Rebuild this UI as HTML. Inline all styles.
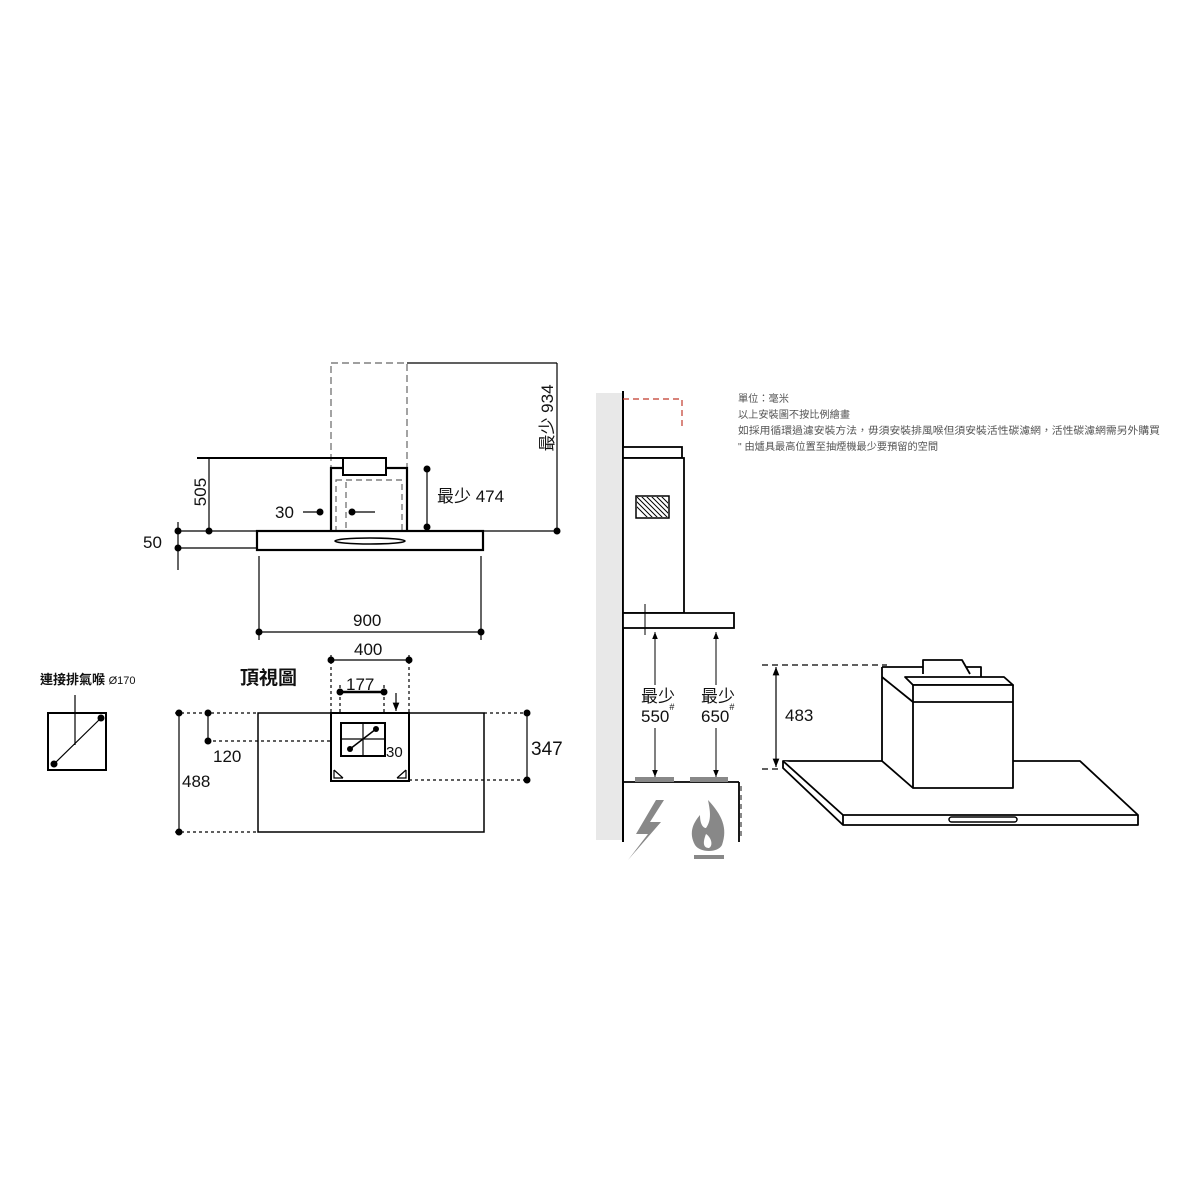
<!DOCTYPE html>
<html><head><meta charset="utf-8"><style>
html,body{margin:0;padding:0;background:#fff;}
svg{display:block;font-family:"Liberation Sans","Noto Sans CJK TC",sans-serif;}
</style></head><body>
<svg width="1200" height="1200" viewBox="0 0 1200 1200" xmlns="http://www.w3.org/2000/svg">
<defs>
<marker id="ah" viewBox="0 0 10 10" refX="10" refY="5" markerWidth="7" markerHeight="7" orient="auto-start-reverse"><path d="M0,1 L10,5 L0,9 Z" fill="#000"/></marker>
<clipPath id="vc"><rect x="637" y="497" width="31" height="20"/></clipPath>
</defs>
<rect width="1200" height="1200" fill="#fff"/>
<g stroke="#000" fill="none" stroke-width="1.2">
<rect x="331" y="363" width="76" height="105" stroke="#666" stroke-dasharray="7,4"/>
<line x1="407" y1="363" x2="557" y2="363"/>
<line x1="557" y1="363" x2="557" y2="531"/>
<line x1="197" y1="458" x2="386" y2="458" stroke-width="2"/>
<line x1="209" y1="458" x2="209" y2="531"/>
<rect x="331" y="468" width="76" height="67" stroke-width="2.2" fill="#fff"/>
<rect x="343" y="458" width="43" height="17" stroke-width="2" fill="#fff"/>
<rect x="336" y="480" width="66" height="55" stroke="#666" stroke-dasharray="6,4"/>
<line x1="346" y1="482" x2="346" y2="533" stroke="#666" stroke-dasharray="6,4"/>
<line x1="303" y1="512" x2="320" y2="512"/>
<line x1="352" y1="512" x2="375" y2="512"/>
<line x1="427" y1="469" x2="427" y2="527"/>
<line x1="178" y1="531" x2="257" y2="531"/>
<line x1="178" y1="548" x2="257" y2="548"/>
<line x1="178" y1="522" x2="178" y2="570"/>
<line x1="483" y1="531" x2="557" y2="531"/>
<rect x="257" y="531" width="226" height="19" stroke-width="2.2" fill="#fff"/>
<ellipse cx="370" cy="541" rx="35" ry="3" stroke-width="1.6"/>
<line x1="259" y1="556" x2="259" y2="640"/>
<line x1="481" y1="556" x2="481" y2="640"/>
<line x1="259" y1="632" x2="481" y2="632"/>
<line x1="331" y1="655" x2="331" y2="712" stroke-dasharray="3,3"/>
<line x1="409" y1="655" x2="409" y2="712" stroke-dasharray="3,3"/>
<line x1="331" y1="660" x2="409" y2="660"/>
<line x1="340" y1="685" x2="340" y2="712" stroke-dasharray="3,3"/>
<line x1="384" y1="685" x2="384" y2="712" stroke-dasharray="3,3"/>
<line x1="340" y1="692" x2="384" y2="692" stroke-width="2.5"/>
<line x1="396" y1="693" x2="396" y2="711" marker-end="url(#ah)"/>
<line x1="396" y1="735" x2="396" y2="717" marker-end="url(#ah)"/>
<rect x="258" y="713" width="226" height="119" stroke-width="1.5"/>
<line x1="175" y1="713" x2="258" y2="713" stroke-dasharray="3,3"/>
<line x1="484" y1="713" x2="530" y2="713" stroke-dasharray="3,3"/>
<line x1="409" y1="780" x2="527" y2="780" stroke-dasharray="3,3"/>
<line x1="175" y1="832" x2="258" y2="832" stroke-dasharray="3,3"/>
<line x1="207" y1="741" x2="331" y2="741" stroke-dasharray="3,3"/>
<line x1="179" y1="713" x2="179" y2="832"/>
<line x1="208" y1="713" x2="208" y2="741"/>
<line x1="527" y1="713" x2="527" y2="780"/>
<rect x="331" y="713" width="78" height="68" stroke-width="2" fill="#fff"/>
<rect x="341" y="723" width="44" height="33" stroke-width="2"/>
<line x1="363" y1="723" x2="363" y2="756"/>
<line x1="341" y1="739" x2="385" y2="739"/>
<line x1="350" y1="749" x2="376" y2="729" stroke-width="1.5"/>
<path d="M334,770 L334,778 L343,778 M406,770 L406,778 L397,778 M334,770 L343,778 M406,770 L397,778"/>
<rect x="48" y="713" width="58" height="57" stroke-width="2"/>
<line x1="54" y1="764" x2="101" y2="718"/>
<line x1="75" y1="695" x2="75" y2="745"/>
</g>
<g fill="#000">
<circle cx="557" cy="531" r="3.5"/><circle cx="209" cy="531" r="3.5"/>
<circle cx="320" cy="512" r="3.5"/><circle cx="352" cy="512" r="3.5"/>
<circle cx="427" cy="469" r="3.5"/><circle cx="427" cy="527" r="3.5"/>
<circle cx="178" cy="531" r="3.5"/><circle cx="178" cy="548" r="3.5"/>
<circle cx="259" cy="632" r="3.5"/><circle cx="481" cy="632" r="3.5"/>
<circle cx="331" cy="660" r="3.5"/><circle cx="409" cy="660" r="3.5"/>
<circle cx="340" cy="692" r="3.5"/><circle cx="384" cy="692" r="3.5"/>
<circle cx="179" cy="713" r="3.5"/><circle cx="179" cy="832" r="3.5"/>
<circle cx="208" cy="713" r="3.5"/><circle cx="208" cy="741" r="3.5"/>
<circle cx="527" cy="713" r="3.5"/><circle cx="527" cy="780" r="3.5"/>
<circle cx="350" cy="749" r="3"/><circle cx="376" cy="729" r="3"/>
<circle cx="54" cy="764" r="3.5"/><circle cx="101" cy="718" r="3.5"/>
</g>
<g font-size="17" fill="#111">
<text x="206" y="492" transform="rotate(-90 206 492)" text-anchor="middle">505</text>
<text x="553" y="418" transform="rotate(-90 553 418)" text-anchor="middle">最少 934</text>
<text x="275" y="518">30</text>
<text x="437" y="502">最少 474</text>
<text x="143" y="548">50</text>
<text x="353" y="626">900</text>
<text x="354" y="655">400</text>
<text x="346" y="690">177</text>
<text x="386" y="757" font-size="15">30</text>
<text x="213" y="762">120</text>
<text x="182" y="787">488</text>
<text x="531" y="755" font-size="19">347</text>
<text x="240" y="684" font-size="19" font-weight="bold">頂視圖</text>
<text x="40" y="684" font-size="13" font-weight="bold">連接排氣喉 <tspan font-weight="normal" font-size="11">Ø170</tspan></text>
</g>
<rect x="596" y="393" width="27" height="447" fill="#e8e8e8"/>
<g stroke="#000" fill="none" stroke-width="1.8">
<line x1="623" y1="391" x2="623" y2="842" stroke-width="2"/>
<path d="M623,399 L682,399 L682,426" stroke="#c0392b" stroke-width="1.2" stroke-dasharray="6,4"/>
<rect x="623" y="447" width="59" height="11" fill="#fff"/>
<rect x="623" y="458" width="61" height="155" fill="#fff"/>
<rect x="636" y="496" width="33" height="22" stroke-width="1.5"/>
<g clip-path="url(#vc)" stroke-width="1">
<path d="M630,490 L660,520 M635,490 L665,520 M640,490 L670,520 M645,490 L675,520 M650,490 L680,520 M655,490 L685,520 M625,490 L655,520 M620,490 L650,520"/>
</g>
<rect x="623" y="613" width="111" height="15" fill="#fff"/>
<line x1="645" y1="604" x2="645" y2="635" stroke-width="1"/>
<line x1="655" y1="685" x2="655" y2="632" stroke-width="1" marker-end="url(#ah)"/>
<line x1="655" y1="728" x2="655" y2="777" stroke-width="1" marker-end="url(#ah)"/>
<line x1="716" y1="685" x2="716" y2="632" stroke-width="1" marker-end="url(#ah)"/>
<line x1="716" y1="728" x2="716" y2="777" stroke-width="1" marker-end="url(#ah)"/>
<line x1="623" y1="782" x2="739" y2="782"/>
<line x1="739" y1="782" x2="739" y2="842"/>
<line x1="741" y1="786" x2="741" y2="840" stroke="#888" stroke-dasharray="5,4" stroke-width="2"/>
</g>
<g fill="#888">
<rect x="635" y="777" width="39" height="5"/><rect x="690" y="777" width="38" height="5"/>
<path d="M656,800 L636,834 L648,834 L628,860 L661,822 L650,822 L664,800 Z"/>
<path d="M708,800 C722,815 728,828 722,845 C718,853 700,853 695,845 C688,832 694,822 700,815 C700,824 703,828 706,828 C712,820 710,810 708,800 Z"/>
<path d="M706,834 C712,838 713,846 709,848 C704,848 702,844 706,834 Z" fill="#fff"/>
<rect x="694" y="855" width="30" height="4"/>
</g>
<g font-size="17" fill="#111">
<text x="641" y="702">最少</text>
<text x="641" y="722">550<tspan font-size="9" dy="-12">#</tspan></text>
<text x="701" y="702">最少</text>
<text x="701" y="722">650<tspan font-size="9" dy="-12">#</tspan></text>
<text x="785" y="721">483</text>
</g>
<g font-size="10.2" fill="#555">
<text x="738" y="402">單位：毫米</text>
<text x="738" y="418">以上安裝圖不按比例繪畫</text>
<text x="738" y="434" textLength="422" lengthAdjust="spacingAndGlyphs">如採用循環過濾安裝方法，毋須安裝排風喉但須安裝活性碳濾網，活性碳濾網需另外購買</text>
<text x="738" y="450">" 由爐具最高位置至抽煙機最少要預留的空間</text>
</g>
<g stroke="#000" fill="#fff" stroke-width="1.8" stroke-linejoin="round">
<line x1="762" y1="665" x2="887" y2="665" stroke-dasharray="6,4" stroke-width="1.2"/>
<line x1="762" y1="769" x2="780" y2="769" stroke-dasharray="6,4" stroke-width="1.2"/>
<line x1="776" y1="667" x2="776" y2="767" stroke-width="1.2" marker-start="url(#ah)" marker-end="url(#ah)"/>
<path d="M783,761 L1080,761 L1138,815 L1138,825 L843,825 L783,768 Z"/>
<path d="M783,761 L843,815 L1138,815"/>
<line x1="843" y1="815" x2="843" y2="825"/>
<rect x="949" y="817" width="68" height="5" rx="2.5" stroke-width="1.5"/>
<path d="M882,667 L981,667 L981,680 L913,788 L882,761 Z" stroke="none"/>
<path d="M882,667 L882,761 L913,788"/>
<path d="M882,667 L981,667 L981,680"/>
<path d="M923,674 L923,660 L962,660 L970,674" fill="#fff"/>
<line x1="882" y1="677" x2="913" y2="702"/>
<path d="M905,677 L1004,677 L1013,685 L913,685 Z"/>
<rect x="913" y="685" width="100" height="103"/>
<line x1="913" y1="702" x2="1013" y2="702"/>
</g>
</svg>
</body></html>
